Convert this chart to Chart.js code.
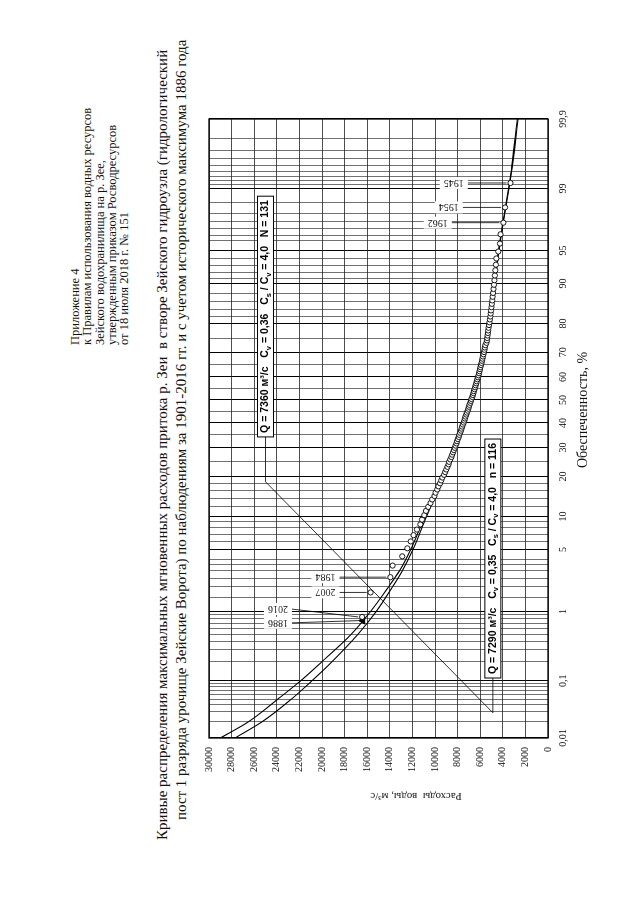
<!DOCTYPE html>
<html lang="ru">
<head>
<meta charset="utf-8">
<title>Кривые распределения максимальных мгновенных расходов притока р. Зеи</title>
<script src="https://cdn.jsdelivr.net/npm/chart.js@4.4.1/dist/chart.umd.min.js"></script>
<style>
  html, body { margin: 0; padding: 0; background: #fff; }
  body { width: 640px; height: 905px; overflow: hidden; position: relative; }
  /* the sheet is laid out landscape and turned a quarter turn, as in the scan */
  #page {
    position: absolute; left: 0; top: 0; width: 905px; height: 640px;
    transform-origin: 0 0; transform: translateY(905px) rotate(-90deg);
    font-family: "Liberation Serif", "Times New Roman", serif; color: #111;
  }
  .abs { position: absolute; white-space: pre; }
  #header { left: 560px; top: 69px; font-size: 12.5px; line-height: 12.3px; }
  #title1 { left: 65px; top: 154px; font-size: 15px; line-height: 17px; }
  #title2 { left: 85px; top: 173px; font-size: 15px; line-height: 17px; }
  #chartBox { position: absolute; left: 40px; top: 190px; width: 780px; height: 420px; }
  #yTitle { left: 102px; top: 516px; width: 200px; text-align: center; font-size: 11px; line-height: 12px;
            transform-origin: 0 0; transform: rotate(-90deg); }
  #xTitle { left: 395px; top: 575px; width: 200px; text-align: center; font-size: 14px; line-height: 16px; }
</style>
</head>
<body>
<div id="page">
  <div id="header" class="abs">Приложение 4
к Правилам использования водных ресурсов
Зейского водохранилища на р. Зее,
утвержденным приказом Росводресурсов
от 18 июля 2018 г. № 151</div>
  <div id="title1" class="abs">Кривые распределения максимальных мгновенных расходов притока р. Зеи  в створе Зейского гидроузла (гидрологический</div>
  <div id="title2" class="abs">пост 1 разряда урочище Зейские Ворота) по наблюдениям за 1901-2016 гг. и с учетом исторического максимума 1886 года</div>
  <div id="chartBox"><canvas id="c" width="780" height="420"></canvas></div>
  <div id="yTitle" class="abs">Расходы  воды, м³/с</div>
  <div id="xTitle" class="abs">Обеспеченность, %</div>
</div>
<script>
// probability grid of the paper, %
const gridP = [0.01, 0.02, 0.03, 0.04, 0.05, 0.06, 0.07, 0.08, 0.09, 0.1, 0.2, 0.3, 0.4, 0.5, 0.6, 0.7, 0.8, 0.9,
  1, 1.5, 2, 2.5, 3, 3.5, 4, 5, 6, 7, 8, 9, 10, 12, 14, 16, 18, 20, 25, 30, 35, 40, 45, 50, 55, 60, 65, 70, 75,
  80, 82, 84, 86, 88, 90, 91, 92, 93, 94, 95, 96, 96.5, 97, 97.5, 98, 98.5, 99,
  99.1, 99.2, 99.3, 99.4, 99.5, 99.6, 99.7, 99.8, 99.9];
const labelP = [0.01, 0.1, 1, 5, 10, 20, 30, 40, 50, 60, 70, 80, 90, 95, 99, 99.9];

// theoretical curves
const curveP = [0.01, 0.02, 0.05, 0.1, 0.2, 0.5, 1, 2, 3, 5, 10, 20, 30, 40, 50, 60, 70, 80, 90, 95, 97, 99, 99.5, 99.9];
const curveN131 = [29000, 26500, 23900, 21900, 20000, 17400, 15700, 14100, 13150, 12150, 10900, 9300, 8250, 7450, 6750, 6150, 5600, 5100, 4700, 4350, 4050, 3450, 3150, 2650];
const curveN116 = [27700, 25300, 22700, 20900, 19100, 16800, 15200, 13750, 12900, 11950, 10750, 9250, 8230, 7430, 6750, 6160, 5620, 5120, 4720, 4370, 4080, 3500, 3200, 2720];

// observed maxima 1901-2016, ranked
const empP = [0.85, 1.71, 2.56, 3.42, 4.27, 5.13, 5.98, 6.84, 7.69, 8.55, 9.40, 10.26, 11.11, 11.97, 12.82, 13.68,
  14.53, 15.38, 16.24, 17.09, 17.95, 18.80, 19.66, 20.51, 21.37, 22.22, 23.08, 23.93, 24.79, 25.64, 26.50, 27.35,
  28.21, 29.06, 29.91, 30.77, 31.62, 32.48, 33.33, 34.19, 35.04, 35.90, 36.75, 37.61, 38.46, 39.32, 40.17, 41.03,
  41.88, 42.74, 43.59, 44.44, 45.30, 46.15, 47.01, 47.86, 48.72, 49.57, 50.43, 51.28, 52.14, 52.99, 53.85, 54.70,
  55.56, 56.41, 57.26, 58.12, 58.97, 59.83, 60.68, 61.54, 62.39, 63.25, 64.10, 64.96, 65.81, 66.67, 67.52, 68.38,
  69.23, 70.09, 70.94, 71.79, 72.65, 73.50, 74.36, 75.21, 76.07, 76.92, 77.78, 78.63, 79.49, 80.34, 81.20, 82.05,
  82.91, 83.76, 84.62, 85.47, 86.32, 87.18, 88.03, 88.89, 89.74, 90.60, 91.45, 92.31, 93.16, 94.02, 94.87, 95.73,
  96.58, 97.44, 98.29, 99.15];
const empQ = [16450, 15700, 13950, 13750, 12900, 12450, 12150, 11900, 11600, 11300,
  11150, 10950, 10800, 10600, 10400, 10250, 10050, 9950, 9800, 9700,
  9550, 9450, 9350, 9200, 9100, 9000, 8900, 8800, 8750, 8650,
  8550, 8480, 8400, 8330, 8250, 8180, 8100, 8050, 7980, 7900,
  7850, 7780, 7700, 7650, 7600, 7530, 7450, 7400, 7350, 7300,
  7230, 7180, 7100, 7050, 7000, 6950, 6880, 6820, 6780, 6700,
  6650, 6600, 6560, 6500, 6450, 6400, 6350, 6300, 6250, 6200,
  6150, 6100, 6060, 6020, 5980, 5930, 5880, 5840, 5800, 5760,
  5710, 5660, 5620, 5590, 5550, 5450, 5400, 5380, 5350, 5320,
  5290, 5260, 5220, 5180, 5140, 5100, 5070, 5040, 5000, 4970,
  4930, 4900, 4860, 4820, 4780, 4740, 4700, 4660, 4610, 4570,
  4400, 4250, 4200, 3950, 3800, 3320];

// historical maximum
const histP = [0.76];
const histQ = [16400];

// marked years: point probability, discharge of the point
const yearText = ['1886', '2016', '2007', '1984', '1962', '1954', '1945'];
const yearP = [0.76, 0.85, 1.71, 2.56, 97.44, 98.29, 99.15];
const yearQ = [16400, 16450, 15700, 13950, 3950, 3800, 3320];

const qTicks = [0, 2000, 4000, 6000, 8000, 10000, 12000, 14000, 16000, 18000, 20000, 22000, 24000, 26000, 28000, 30000];

const box131 = ['Q = 7360 м³/с   C', 'v', ' = 0,36   C', 's', ' / C', 'v', ' = 4,0   N = 131'];
const box116 = ['Q = 7290 м³/с   C', 'v', ' = 0,35   C', 's', ' / C', 'v', ' = 4,0   n = 116'];

// inverse normal (Acklam)
function probit(p) {
  const a = [-39.69683028665376, 220.9460984245205, -275.9285104469687, 138.3577518672690, -30.66479806614716, 2.506628277459239];
  const b = [-54.47609879822406, 161.5858368580409, -155.6989798598866, 66.80131188771972, -13.28068155288572];
  const c = [-0.007784894002430293, -0.3223964580411365, -2.400758277161838, -2.549732539343734, 4.374664141464968, 2.938163982698783];
  const d = [0.007784695709041462, 0.3224671290700398, 2.445134137142996, 3.754408661907416];
  const lo = 0.02425;
  let q, r;
  if (p < lo) {
    q = Math.sqrt(-2 * Math.log(p));
    return (((((c[0] * q + c[1]) * q + c[2]) * q + c[3]) * q + c[4]) * q + c[5]) / ((((d[0] * q + d[1]) * q + d[2]) * q + d[3]) * q + 1);
  }
  if (p > 1 - lo) {
    q = Math.sqrt(-2 * Math.log(1 - p));
    return -(((((c[0] * q + c[1]) * q + c[2]) * q + c[3]) * q + c[4]) * q + c[5]) / ((((d[0] * q + d[1]) * q + d[2]) * q + d[3]) * q + 1);
  }
  q = p - 0.5; r = q * q;
  return (((((a[0] * r + a[1]) * r + a[2]) * r + a[3]) * r + a[4]) * r + a[5]) * q / (((((b[0] * r + b[1]) * r + b[2]) * r + b[3]) * r + b[4]) * r + 1);
}
function normCdf(z) {
  const t = 1 / (1 + 0.2316419 * Math.abs(z));
  const y = 0.3989423 * Math.exp(-z * z / 2) * t * (0.3193815 + t * (-0.3565638 + t * (1.781478 + t * (-1.821256 + t * 1.330274))));
  return z > 0 ? 1 - y : y;
}

// probability-paper axis
class ProbScale extends Chart.Scale {
  static id = 'prob';
  static defaults = {};
  determineDataLimits() {
    this.min = this.options.min;
    this.max = this.options.max;
  }
  buildTicks() {
    return gridP.map(v => ({ value: v }));
  }
  configure() {
    super.configure();
    this._z0 = probit(this.min / 100);
    this._z1 = probit(this.max / 100);
  }
  getLabelForValue(v) { return String(v); }
  getPixelForValue(v) {
    if (v === null || v === undefined || isNaN(v)) return NaN;
    return this.getPixelForDecimal((probit(v / 100) - this._z0) / (this._z1 - this._z0));
  }
  getValueForPixel(px) {
    const dec = this.getDecimalForPixel(px);
    return normCdf(this._z0 + dec * (this._z1 - this._z0)) * 100;
  }
}
Chart.register(ProbScale);

const fmt = v => String(v).replace('.', ',');
const pts = (ps, qs) => ps.map((p, i) => ({ x: p, y: qs[i] }));

function drawBox(ctx, left, cy, parts) {
  const big = 'bold 10.5px "Liberation Sans", Arial, sans-serif';
  const small = 'bold 7.5px "Liberation Sans", Arial, sans-serif';
  let w = 0;
  parts.forEach((t, i) => { ctx.font = i % 2 ? small : big; w += ctx.measureText(t).width; });
  ctx.fillStyle = '#fff';
  ctx.fillRect(left, cy - 8, w + 8, 16);
  ctx.strokeStyle = '#000';
  ctx.lineWidth = 1;
  ctx.strokeRect(left, cy - 8, w + 8, 16);
  ctx.fillStyle = '#000';
  ctx.textBaseline = 'middle';
  ctx.textAlign = 'left';
  let x = left + 4;
  parts.forEach((t, i) => {
    ctx.font = i % 2 ? small : big;
    ctx.fillText(t, x, i % 2 ? cy + 3 : cy);
    x += ctx.measureText(t).width;
  });
}

const notes = {
  id: 'notes',
  afterDatasetsDraw(chart) {
    const { ctx, chartArea: a } = chart;
    const xs = chart.scales.x, ys = chart.scales.y;
    const X = p => xs.getPixelForValue(p), Y = q => ys.getPixelForValue(q);
    ctx.save();
    ctx.strokeStyle = '#000';
    ctx.lineWidth = 1.3;
    ctx.strokeRect(a.left, a.top, a.right - a.left, a.bottom - a.top);

    // leader joining the two parameter boxes
    ctx.lineWidth = 0.8;
    ctx.beginPath();
    ctx.moveTo(X(34.2), Y(25000));
    ctx.lineTo(X(18.4), Y(25000));
    ctx.lineTo(X(0.029), Y(4880));
    ctx.lineTo(X(0.111), Y(4880));
    ctx.stroke();

    // year labels with leaders
    const labelAt = [[0.71, 23900], [1.07, 23900], [1.71, 19700], [2.56, 19700], [97.44, 9760], [98.29, 8790], [99.15, 8340]];
    ctx.font = '10px "Liberation Serif", serif';
    ctx.textAlign = 'center';
    ctx.textBaseline = 'middle';
    yearText.forEach((t, i) => {
      const lx = X(labelAt[i][0]), ly = Y(labelAt[i][1]);
      const w = ctx.measureText(t).width;
      ctx.strokeStyle = '#000';
      ctx.lineWidth = 0.8;
      ctx.beginPath();
      ctx.moveTo(lx, ly + w / 2 + 4);
      ctx.lineTo(X(yearP[i]), Y(yearQ[i]) - 4);
      ctx.stroke();
      ctx.save();
      ctx.translate(lx, ly);
      ctx.rotate(-Math.PI / 2);
      ctx.fillStyle = '#fff';
      ctx.fillRect(-w / 2 - 4, -6, w + 8, 12);
      ctx.fillStyle = '#111';
      ctx.fillText(t, 0, 0.5);
      ctx.restore();
    });

    drawBox(ctx, X(34.2), Y(25000), box131);
    drawBox(ctx, X(0.111), Y(4880), box116);
    ctx.restore();
  }
};

Chart.defaults.font.family = '"Liberation Serif", "Times New Roman", serif';
Chart.defaults.font.size = 10;
Chart.defaults.color = '#111';

new Chart(document.getElementById('c'), {
  data: {
    datasets: [
      {
        type: 'scatter',
        label: 'Наблюдения 1901-2016',
        data: pts(empP, empQ),
        pointStyle: 'circle',
        pointRadius: 2.6,
        borderWidth: 0.9,
        borderColor: '#000',
        backgroundColor: '#fff',
        order: 0
      },
      {
        type: 'scatter',
        label: '1886',
        data: pts(histP, histQ),
        pointStyle: 'triangle',
        pointRadius: 4,
        borderWidth: 1,
        borderColor: '#000',
        backgroundColor: '#000',
        order: 0
      },
      {
        type: 'line',
        label: 'N = 131',
        data: pts(curveP, curveN131),
        borderColor: '#000',
        borderWidth: 1.1,
        pointRadius: 0,
        cubicInterpolationMode: 'monotone',
        fill: false,
        order: 1
      },
      {
        type: 'line',
        label: 'n = 116',
        data: pts(curveP, curveN116),
        borderColor: '#000',
        borderWidth: 1.1,
        pointRadius: 0,
        cubicInterpolationMode: 'monotone',
        fill: false,
        order: 1
      }
    ]
  },
  options: {
    responsive: false,
    animation: false,
    devicePixelRatio: 1,
    layout: { padding: { left: 0, right: 34, top: 19, bottom: 0 } },
    plugins: { legend: { display: false }, tooltip: { enabled: false } },
    scales: {
      x: {
        type: 'prob',
        position: 'bottom',
        min: 0.01,
        max: 99.9,
        afterFit: s => { s.height = 62; },
        grid: {
          drawTicks: false,
          color: c => labelP.includes(c.tick && c.tick.value) ? '#000' : '#333',
          lineWidth: c => labelP.includes(c.tick && c.tick.value) ? 1 : 0.7
        },
        border: { display: false },
        ticks: {
          autoSkip: false,
          maxRotation: 0,
          minRotation: 0,
          padding: 9,
          callback: v => labelP.includes(v) ? fmt(v) : ''
        }
      },
      y: {
        type: 'linear',
        min: 0,
        max: 30000,
        afterFit: s => { s.width = 127; },
        afterBuildTicks: s => { s.ticks = qTicks.map(v => ({ value: v })); },
        grid: { drawTicks: false, color: '#222', lineWidth: 0.8 },
        border: { display: false },
        ticks: { padding: 9, callback: v => String(v) }
      }
    }
  },
  plugins: [notes]
});
</script>
</body>
</html>
